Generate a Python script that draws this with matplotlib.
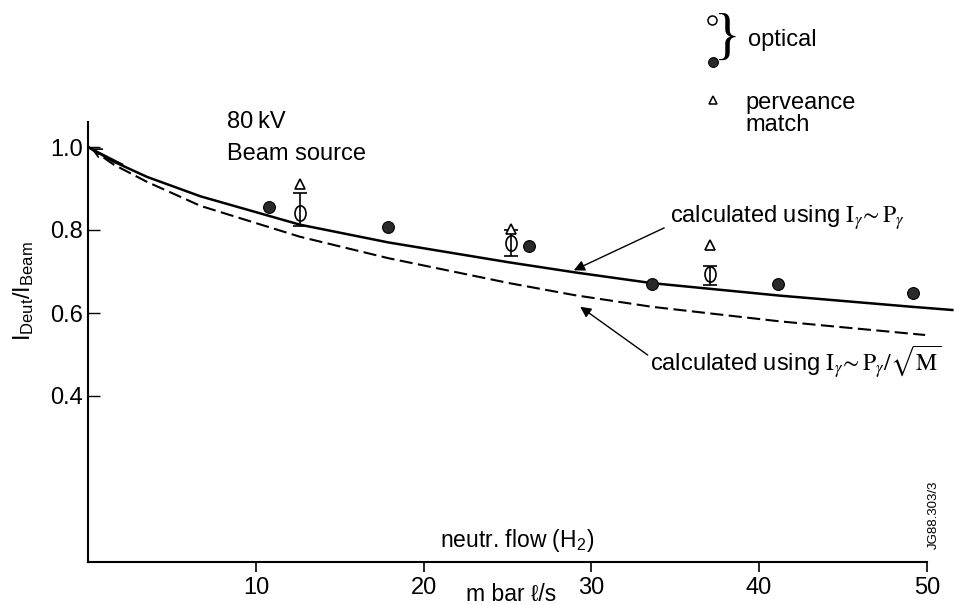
import matplotlib
matplotlib.use("Agg")
import matplotlib.pyplot as plt
from matplotlib.lines import Line2D
from matplotlib.path import Path
import numpy as np

plt.rcParams['font.family'] = ['Liberation Sans', 'DejaVu Sans']
plt.rcParams['mathtext.fontset'] = 'stix'

# ---- data ----
solid_x = [0, 1.5, 3.5, 6.7, 12.6, 17.9, 25.1, 29.0, 33.6, 41.2, 49.1, 51.6]
solid_y = [1.0, 0.965, 0.928, 0.881, 0.813, 0.770, 0.722, 0.698, 0.672, 0.642, 0.615, 0.607]
dashed_x = [0, 1.5, 3.5, 6.7, 12.6, 17.9, 25.1, 29.0, 33.6, 41.2, 49.9]
dashed_y = [1.0, 0.958, 0.916, 0.858, 0.784, 0.732, 0.672, 0.643, 0.615, 0.580, 0.547]

filled_x = [10.8, 17.9, 26.3, 33.6, 41.1, 49.2]
filled_y = [0.856, 0.808, 0.762, 0.670, 0.670, 0.647]

open_x = [12.6, 25.2, 37.1]
open_y = [0.842, 0.769, 0.694]
open_lo = [0.810, 0.737, 0.667]
open_hi = [0.890, 0.800, 0.713]

tri_x = [12.6, 25.2, 37.1]
tri_y = [0.910, 0.802, 0.764]

x_ticks = [10, 20, 30, 40, 50]
y_ticks = [0.4, 0.6, 0.8, 1.0]
y_ticklabels = ['0.4', '0.6', '0.8', '1.0']

W, H = 979, 605
fig = plt.figure(figsize=(W / 100, H / 100), dpi=100)
ax = fig.add_axes([88.3 / W, (H - 562) / H, 52 * 16.77 / W, 1.06 * 415 / H])
ax.set_xlim(0, 52)
ax.set_ylim(0, 1.06)

# curves
ax.plot(solid_x, solid_y, color='black', lw=1.8, solid_capstyle='butt',
        solid_joinstyle='round')
ax.plot(dashed_x, dashed_y, color='black', lw=1.5, dashes=(6.3, 2.6))

# filled dots
ax.plot(filled_x, filled_y, linestyle='none', marker='o', ms=8.5,
        mfc='#2a2a2a', mec='black', mew=0.8, zorder=5)

# open circles with error bars (slightly tall ellipse)
circ = Path.unit_circle()
ell = Path(circ.vertices * np.array([0.72, 1.0]), circ.codes)
err_lo = [v - lo for v, lo in zip(open_y, open_lo)]
err_hi = [hi - v for v, hi in zip(open_y, open_hi)]
ax.errorbar(open_x, open_y, yerr=[err_lo, err_hi], fmt='none', ecolor='black',
            elinewidth=1.2, capsize=5, capthick=1.2, zorder=4)
ax.plot(open_x, open_y, linestyle='none', marker=ell, ms=11,
        mfc='none', mec='black', mew=1.2, zorder=6)

# triangles
ax.plot(tri_x, tri_y, linestyle='none', marker='^', ms=7.5,
        mfc='white', mec='black', mew=1.2, zorder=6)

# axes styling
for s in ('top', 'right'):
    ax.spines[s].set_visible(False)
ax.spines['left'].set_bounds(0, 1.06)
ax.spines['bottom'].set_bounds(0, 50)
ax.spines['left'].set_linewidth(1.5)
ax.spines['bottom'].set_linewidth(1.5)
ax.set_xticks(x_ticks)
ax.set_xticklabels([str(t) for t in x_ticks])
ax.set_yticks(y_ticks)
ax.set_yticklabels(y_ticklabels)
ax.tick_params(axis='x', direction='out', length=7, width=1.2, pad=3.5, labelsize=17)
ax.tick_params(axis='y', direction='in', length=8.5, width=1.0, pad=4, labelsize=17)

# arrowhead at the start of the curves
ax.annotate('', xy=(0, 1.0), xytext=(2.2, 0.955),
            arrowprops=dict(arrowstyle='->', lw=1.2, color='black', mutation_scale=16))

# annotation arrows
ax.annotate('', xy=(28.8, 0.700), xycoords='data',
            xytext=(666.7 / W, 1 - 226.7 / H), textcoords='figure fraction',
            arrowprops=dict(arrowstyle='-|>', lw=1.0, color='black', mutation_scale=16))
ax.annotate('', xy=(29.2, 0.619), xycoords='data',
            xytext=(650 / W, 1 - 356.7 / H), textcoords='figure fraction',
            arrowprops=dict(arrowstyle='-|>', lw=1.0, color='black', mutation_scale=16))

def ftext(x, y, s, **kw):
    fig.text(x / W, 1 - y / H, s, **kw)

ftext(670, 223, r'calculated using $\mathrm{I}_{\gamma}\!\sim\mathrm{P}_{\gamma}$',
      fontsize=17, va='baseline', ha='left')
ftext(650, 372, r'calculated using $\mathrm{I}_{\gamma}\!\sim\mathrm{P}_{\gamma}/\sqrt{\mathrm{M}}$',
      fontsize=17, va='baseline', ha='left')

ftext(226.7, 128.3, '80\u2009kV', fontsize=17, va='baseline', ha='left')
ftext(226.7, 160, 'Beam source', fontsize=17, va='baseline', ha='left')

ftext(440, 546.7, r'neutr. flow (H$_\mathregular{2}$)', fontsize=16.5, va='baseline', ha='left')
ftext(466, 601, 'm bar \u2113/s', fontsize=16.5, va='baseline', ha='left')

ftext(24, 291, r'$\mathregular{I_{Deut}/I_{Beam}}$', fontsize=17, rotation=90,
      va='center', ha='center')

ftext(934, 515, 'JG88.303/3', fontsize=9.5, rotation=90, va='center', ha='center')

# legend block (top right)
fig.add_artist(Line2D([711.7 / W], [1 - 20 / H], marker='o', ms=6.5, mfc='none',
                      mec='black', mew=1.1, linestyle='none', transform=fig.transFigure))
fig.add_artist(Line2D([713.3 / W], [1 - 61.7 / H], marker='o', ms=7, mfc='#2a2a2a',
                      mec='black', mew=0.8, linestyle='none', transform=fig.transFigure))
fig.add_artist(Line2D([713.3 / W], [1 - 100 / H], marker='^', ms=5.5, mfc='white',
                      mec='black', mew=1.1, linestyle='none', transform=fig.transFigure))
ftext(727, 40, '}', fontsize=40, family='Liberation Serif', va='center', ha='center')
ftext(748, 40, 'optical', fontsize=17, va='center', ha='left')
ftext(745, 103, 'perveance', fontsize=17, va='center', ha='left')
ftext(745, 125, 'match', fontsize=17, va='center', ha='left')

fig.savefig('out.png', dpi=100)
